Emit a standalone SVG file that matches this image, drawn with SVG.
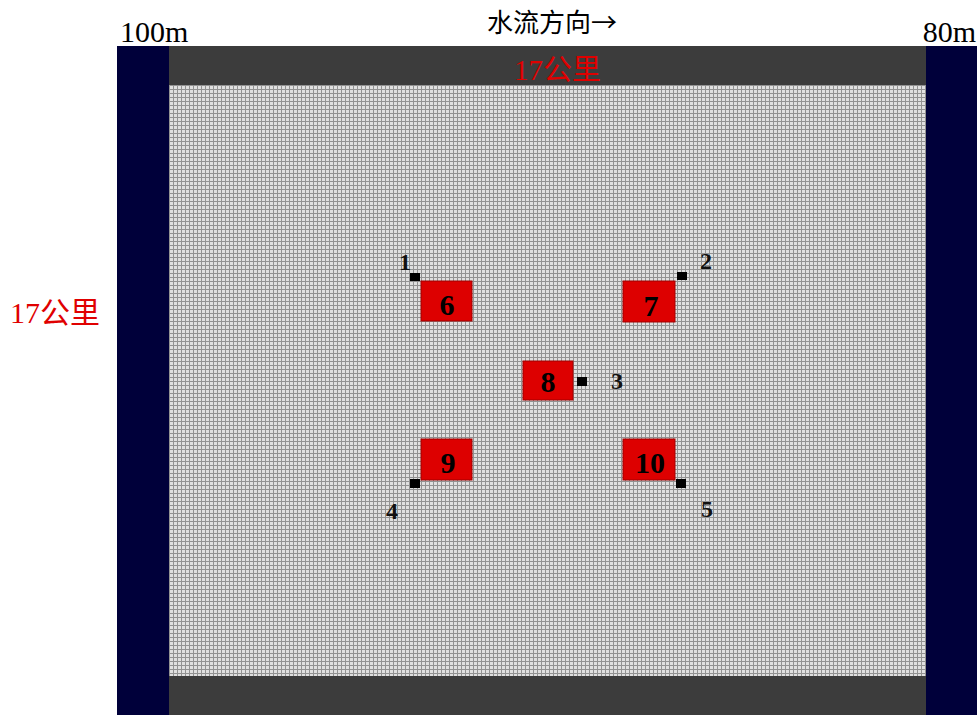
<svg xmlns="http://www.w3.org/2000/svg" width="979" height="715" viewBox="0 0 979 715">
<style>
.t{font-family:"Liberation Serif","Noto Sans CJK SC",serif;fill:#000}
.red{fill:#e00000}
.box{fill:#dd0000;stroke:#a00000;stroke-width:1}
.num{font-family:"Liberation Serif",serif;font-weight:bold;font-size:30px;fill:#000;text-anchor:middle}
.lbl{font-family:"Liberation Serif",serif;font-weight:bold;font-size:24px;fill:#111}
.pt{fill:#000}
</style>
<defs>
<pattern id="grid" x="169" y="85" width="4" height="4" patternUnits="userSpaceOnUse">
<rect width="4" height="4" fill="#e0e0e0"/>
<rect width="4" height="1" fill="#929292"/>
<rect width="1" height="4" fill="#929292"/>
</pattern>
</defs>
<rect width="979" height="715" fill="#fff"/>
<g id="field">
<rect x="117" y="46" width="52" height="669" fill="#00003a"/>
<rect x="926" y="46" width="51" height="669" fill="#00003a"/>
<rect x="169" y="46" width="757" height="39" fill="#3c3c3c"/>
<rect x="169" y="676" width="757" height="39" fill="#3c3c3c"/>
<rect x="169" y="85" width="757" height="591" fill="url(#grid)"/>
</g>
<g id="texts">
<text class="t" x="487" y="32" font-size="26">水流方向<tspan font-family="'Noto Sans CJK SC',sans-serif">→</tspan></text>
<text class="t" x="120" y="42" font-size="30">100m</text>
<text class="t" x="976" y="42" font-size="30" text-anchor="end">80m</text>
<text class="t red" x="514" y="80" font-size="29">17公里</text>
<text class="t red" x="10" y="323" font-size="30">17公里</text>
</g>
<g id="node6"><rect class="box" x="421" y="281" width="51" height="40"/><text class="num" x="447" y="315">6</text></g>
<g id="node7"><rect class="box" x="623" y="281" width="52" height="41"/><text class="num" x="651" y="316">7</text></g>
<g id="node8"><rect class="box" x="523" y="361" width="50" height="39"/><text class="num" x="548" y="392">8</text></g>
<g id="node9"><rect class="box" x="421" y="439" width="51" height="41"/><text class="num" x="448" y="473">9</text></g>
<g id="node10"><rect class="box" x="623" y="439" width="52" height="41"/><text class="num" x="650" y="473">10</text></g>
<g id="p1"><rect class="pt" x="410" y="273" width="10" height="8"/><text class="lbl" x="399" y="270">1</text></g>
<g id="p2"><rect class="pt" x="677" y="272" width="10" height="8"/><text class="lbl" x="700" y="269">2</text></g>
<g id="p3"><rect class="pt" x="577" y="377" width="10" height="9"/><text class="lbl" x="611" y="389">3</text></g>
<g id="p4"><rect class="pt" x="410" y="479" width="10" height="9"/><text class="lbl" x="386" y="519">4</text></g>
<g id="p5"><rect class="pt" x="676" y="479" width="10" height="9"/><text class="lbl" x="701" y="517">5</text></g>
<g id="connectors"></g>
</svg>
